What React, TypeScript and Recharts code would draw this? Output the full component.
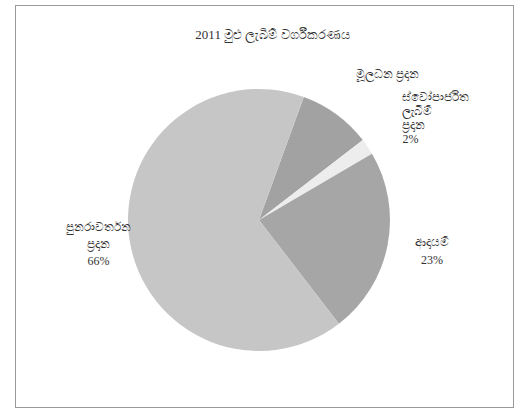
import { PieChart, Pie, Cell } from "recharts";

const categories = ["මූලධන ප්‍රදාන", "ස්වෝපාර්ජිත ලැබීම් ප්‍රදාන", "ආදායම්", "පුනරාවර්තන ප්‍රදාන"];
const shares = [9, 2, 23, 66];
const labelLines = [["මූලධන ප්‍රදාන"], ["ස්වෝපාර්ජිත", "ලැබීම්", "ප්‍රදාන", "2%"], ["ආදායම්", "23%"], ["පුනරාවර්තන", "ප්‍රදාන", "66%"]];

const colors = ["#a2a2a2", "#ededed", "#a6a6a6", "#c6c6c6"];
// label placement: distance from centre (x outerRadius), nudges, line height, anchor
const labelPlace = [
  { r: 1.45, dx: 16, dy: 7, lh: 16, anchor: "middle" },
  { r: 1.45, dx: -14, dy: 4, lh: 14, anchor: "start" },
  { r: 1.36, dx: -2, dy: -3, lh: 18, anchor: "middle" },
  { r: 1.24, dx: 0, dy: -1, lh: 17, anchor: "middle" },
];

const data = categories.map((name, i) => ({ name, value: shares[i] }));

const RAD = Math.PI / 180;

const renderLabel = (p: any) => {
  const pl = labelPlace[p.index];
  const R = p.outerRadius * pl.r;
  const x = p.cx + R * Math.cos(-p.midAngle * RAD) + pl.dx;
  const y = p.cy + R * Math.sin(-p.midAngle * RAD) + pl.dy;
  const lines = labelLines[p.index];
  const y0 = y - ((lines.length - 1) * pl.lh) / 2;
  return (
    <text x={x} y={y0} textAnchor={pl.anchor as any} fill="#333" fontSize={12} fontFamily="'Liberation Serif', serif">
      {lines.map((l, k) => (
        <tspan key={k} x={x} y={y0 + k * pl.lh} dominantBaseline="central">{l}</tspan>
      ))}
    </text>
  );
};

export default function App() {
  return (
    <div style={{ position: "absolute", left: 0, top: 0, width: 517, height: 409, background: "#fff" }}>
      <div style={{ position: "absolute", left: 15, top: 5, width: 497, height: 401, border: "1px solid #9a9a9a" }} />
      <div style={{ position: "absolute", left: 0, width: 545, top: 27, textAlign: "center", fontSize: 13, color: "#333", fontFamily: "'Liberation Serif', serif" }}>
        2011 මුළු ලැබීම් වර්ගීකරණය
      </div>
      <PieChart width={517} height={409} style={{ position: "absolute", left: 0, top: 0 }}>
        <Pie
          data={data}
          dataKey="value"
          nameKey="name"
          cx={254}
          cy={215}
          outerRadius={131}
          startAngle={70}
          endAngle={-290}
          stroke="none"
          label={renderLabel}
          labelLine={false}
          isAnimationActive={false}
        >
          {data.map((d, i) => (
            <Cell key={d.name} fill={colors[i]} />
          ))}
        </Pie>
      </PieChart>
    </div>
  );
}
